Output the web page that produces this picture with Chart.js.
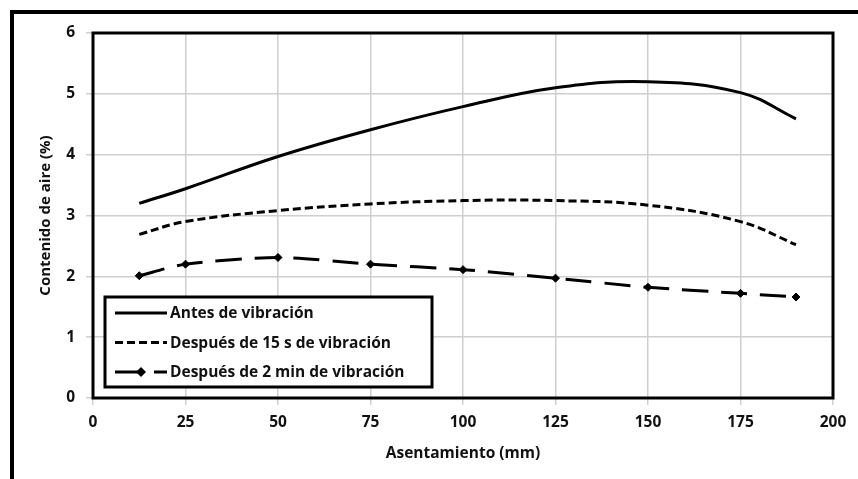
<!DOCTYPE html>
<html>
<head>
<meta charset="utf-8">
<script src="https://cdn.jsdelivr.net/npm/chart.js@4.4.1/dist/chart.umd.min.js"></script>
<style>
  html, body { margin: 0; padding: 0; background: #fff; overflow: hidden; }
  #wrap { position: relative; width: 858px; height: 479px; overflow: hidden; }
  #frame { position: absolute; left: 10px; top: 10px; width: 900px; height: 520px;
           border-left: 4px solid #000; border-top: 4px solid #000; }
  canvas { position: absolute; left: 0; top: 0; }
</style>
</head>
<body>
<div id="wrap">
  <div id="frame"></div>
  <canvas id="lineChart" width="858" height="479"></canvas>
</div>
<script>
// Contenido de aire vs asentamiento
const asentamiento = [12.5, 25, 50, 75, 100, 125, 150, 175, 190];
const antesVibracion = [3.2, 3.44, 3.97, 4.41, 4.79, 5.1, 5.2, 5.02, 4.59];
const despues15s = [2.69, 2.9, 3.08, 3.19, 3.245, 3.245, 3.17, 2.9, 2.52];
const despues2min = [2.01, 2.2, 2.31, 2.2, 2.11, 1.97, 1.82, 1.72, 1.66];

const seriesLabels = [
  "Antes de vibración",
  "Después de 15 s de vibración",
  "Después de 2 min de vibración",
];

const xTicks = [0, 25, 50, 75, 100, 125, 150, 175, 200];
const yTicks = [0, 1, 2, 3, 4, 5, 6];

const FONT = "'Open Sans', Lato, sans-serif";
Chart.defaults.font.family = FONT;
Chart.defaults.color = "#111";

function toPoints(values) {
  return asentamiento.map((x, i) => ({ x: x, y: values[i] }));
}

// frame around the plot area + legend box inside it
const frameAndLegend = {
  id: "frameAndLegend",
  afterDatasetsDraw(chart) {
    const ctx = chart.ctx;
    const area = chart.chartArea;
    ctx.save();
    ctx.strokeStyle = "#000";
    ctx.lineWidth = 3;
    ctx.strokeRect(area.left, area.top, area.right - area.left, area.bottom - area.top);

    // legend
    const bx = area.left + 12;
    const by = area.bottom - 101;
    const bw = 327;
    const bh = 90;
    ctx.fillStyle = "#fff";
    ctx.fillRect(bx, by, bw, bh);
    ctx.lineWidth = 3;
    ctx.strokeRect(bx, by, bw, bh);

    ctx.font = "bold 15.5px " + FONT;
    ctx.textBaseline = "middle";
    ctx.textAlign = "left";
    chart.data.datasets.forEach((ds, i) => {
      const y = by + 16 + i * 29.5;
      const x0 = bx + 10;
      const x1 = bx + 62;
      ctx.strokeStyle = "#000";
      ctx.lineWidth = ds.borderWidth;
      ctx.setLineDash(ds.borderDash || []);
      ctx.lineDashOffset = 0;
      ctx.beginPath();
      ctx.moveTo(x0, y);
      ctx.lineTo(x1, y);
      ctx.stroke();
      ctx.setLineDash([]);
      if (ds.pointRadius > 0) {
        const cx = (x0 + x1) / 2;
        const r = ds.pointRadius + 1;
        ctx.fillStyle = "#000";
        ctx.beginPath();
        ctx.moveTo(cx, y - r);
        ctx.lineTo(cx + r, y);
        ctx.lineTo(cx, y + r);
        ctx.lineTo(cx - r, y);
        ctx.closePath();
        ctx.fill();
      }
      ctx.fillStyle = "#111";
      ctx.fillText(ds.label, x1 + 3, y + 1);
    });
    ctx.restore();
  },
};

const ctx = document.getElementById("lineChart").getContext("2d");

const lineChart = new Chart(ctx, {
  type: "line",
  data: {
    datasets: [
      {
        label: seriesLabels[0],
        data: toPoints(antesVibracion),
        borderColor: "#000",
        borderWidth: 3,
        pointRadius: 0,
        tension: 0.4,
      },
      {
        label: seriesLabels[1],
        data: toPoints(despues15s),
        borderColor: "#000",
        borderWidth: 3,
        borderDash: [8, 4],
        pointRadius: 0,
        tension: 0.4,
      },
      {
        label: seriesLabels[2],
        data: toPoints(despues2min),
        borderColor: "#000",
        borderWidth: 3,
        borderDash: [26, 13],
        pointStyle: "rectRot",
        pointRadius: 4,
        pointBackgroundColor: "#000",
        pointBorderColor: "#000",
        pointBorderWidth: 1,
        tension: 0.25,
      },
    ],
  },
  options: {
    responsive: false,
    animation: false,
    layout: {
      padding: { left: 0, top: 33, right: 25, bottom: 0 },
    },
    plugins: {
      legend: { display: false },
      tooltip: { enabled: false },
    },
    scales: {
      x: {
        type: "linear",
        min: 0,
        max: 200,
        afterBuildTicks: (scale) => {
          scale.ticks = xTicks.map((v) => ({ value: v }));
        },
        afterFit: (scale) => {
          scale.height = 81;
        },
        ticks: {
          font: { size: 15.5, weight: "bold" },
          padding: 8,
          maxRotation: 0,
        },
        grid: {
          color: "#cfcfcf",
          lineWidth: 1.5,
          tickLength: 7,
        },
        border: { display: false },
        title: {
          display: true,
          text: "Asentamiento (mm)",
          font: { size: 15.5, weight: "bold" },
          padding: { top: 0, bottom: 16 },
        },
      },
      y: {
        min: 0,
        max: 6,
        afterBuildTicks: (scale) => {
          scale.ticks = yTicks.map((v) => ({ value: v }));
        },
        afterFit: (scale) => {
          scale.width = 93;
        },
        ticks: {
          font: { size: 15.5, weight: "bold" },
          padding: 11,
        },
        grid: {
          color: "#cfcfcf",
          lineWidth: 1.5,
          tickLength: 7,
        },
        border: { display: false },
        title: {
          display: true,
          text: "Contenido de aire (%)",
          font: { size: 15, weight: "bold" },
          padding: { top: 37, bottom: 0 },
        },
      },
    },
  },
  plugins: [frameAndLegend],
});
</script>
</body>
</html>
